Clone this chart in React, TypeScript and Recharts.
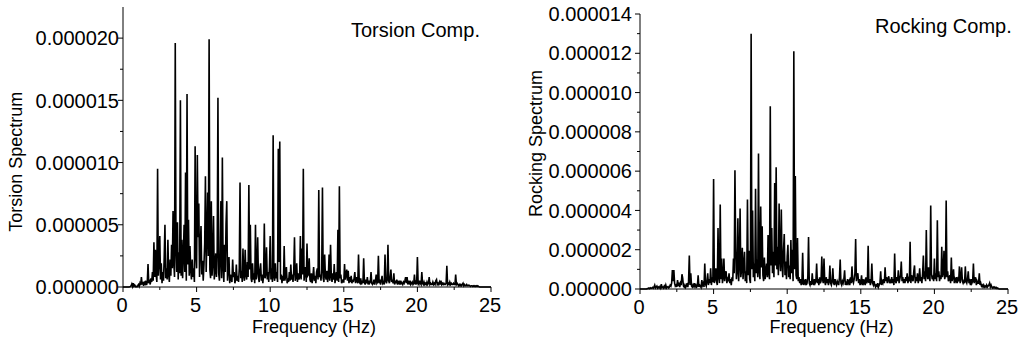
import { ReactElement } from 'react'
import { Line, LineChart, XAxis, YAxis } from 'recharts'

// spectra sampled every 0.05 Hz from 0 to 25 Hz, amplitudes in units of 1e-6
const FREQ_STEP = 0.05

// one row per Hz (20 samples each), plus the closing 25 Hz sample
const torsionValues = [
  0, 0, 0, 0, 0, 0, 0, 0, 0, 0.02, 0.05, 0.1, 0.25, 0.05, 0.3, 0.08, 0.15, 0.03, 0.05, 0.02,
  0.1, 0.2, 0.05, 0.3, 0.15, 0.8, 0.2, 0.4, 0.1, 0.35, 0.25, 0.5, 0.15, 0.4, 1.85, 0.3, 0.6, 0.2, 0.7, 0.4,
  1.2, 0.5, 3.6, 0.8, 3.0, 1.0, 0.4, 9.5, 0.9, 2.0, 4.1, 0.6, 1.9, 0.3, 1.2, 0.5, 2.4, 5.0, 0.7, 1.5,
  0.6, 3.8, 1.0, 0.4, 2.2, 0.9, 3.4, 1.5, 6.1, 2.0, 0.8, 19.6, 3.0, 1.2, 5.2, 0.6, 2.8, 1.1, 15.0, 0.9,
  3.8, 0.7, 2.5, 5.0, 1.2, 9.2, 0.5, 15.5, 1.8, 5.4, 0.9, 3.3, 1.4, 0.6, 2.2, 0.8, 1.5, 0.4, 11.3, 2.6,
  1.5, 10.6, 4.0, 6.7, 0.8, 3.2, 4.9, 1.0, 2.1, 0.5, 1.8, 3.5, 8.9, 1.2, 4.0, 7.6, 2.5, 19.9, 1.4, 0.7,
  6.9, 0.9, 2.0, 5.7, 0.6, 1.3, 2.7, 0.8, 3.0, 15.2, 1.1, 0.5, 2.2, 6.9, 0.7, 10.4, 1.6, 0.4, 3.4, 1.2,
  5.1, 6.9, 0.5, 1.4, 2.4, 0.3, 1.0, 0.6, 0.4, 2.2, 0.8, 1.2, 0.3, 0.6, 1.8, 0.5, 0.9, 0.4, 1.5, 8.4,
  0.7, 1.3, 0.4, 3.1, 0.9, 0.5, 3.0, 1.0, 0.6, 2.0, 0.8, 8.2, 1.4, 5.0, 0.7, 0.4, 1.9, 0.6, 1.1, 0.3,
  5.0, 0.6, 1.2, 4.0, 0.8, 0.4, 1.4, 1.9, 0.5, 1.0, 0.3, 0.9, 5.1, 0.7, 1.1, 3.2, 0.6, 1.2, 0.4, 1.6,
  4.1, 0.6, 1.5, 0.4, 12.2, 0.8, 0.5, 1.9, 0.7, 1.2, 0.4, 11.1, 2.0, 11.7, 0.6, 1.0, 0.3, 0.9, 0.5, 3.3,
  0.5, 1.0, 1.6, 0.3, 0.7, 0.4, 1.2, 0.5, 1.8, 0.6, 1.0, 0.4, 1.3, 4.0, 0.5, 0.8, 1.9, 0.4, 1.1, 0.6,
  0.8, 4.1, 0.6, 3.1, 1.0, 9.5, 0.5, 1.2, 1.6, 0.4, 3.5, 0.9, 1.0, 2.3, 0.6, 0.4, 1.1, 0.3, 0.8, 1.6,
  0.5, 0.9, 0.3, 1.2, 1.5, 0.6, 7.8, 0.8, 1.0, 0.5, 1.4, 8.0, 0.7, 0.4, 2.6, 0.9, 0.6, 1.3, 0.4, 0.8,
  2.6, 0.5, 3.4, 0.9, 0.4, 1.1, 0.6, 1.85, 0.3, 0.8, 1.2, 0.5, 4.6, 0.4, 8.1, 0.7, 1.0, 0.3, 0.6, 0.4,
  0.4, 1.85, 0.6, 1.0, 1.4, 0.5, 1.3, 0.3, 0.8, 0.4, 0.9, 0.3, 0.6, 0.4, 0.7, 1.2, 0.3, 0.8, 0.5, 0.3,
  2.6, 0.4, 0.3, 0.7, 0.2, 0.5, 0.3, 2.3, 0.4, 0.2, 0.6, 0.3, 0.8, 0.2, 0.5, 0.3, 0.4, 1.2, 0.3, 0.2,
  0.3, 0.6, 0.2, 0.5, 1.0, 0.3, 0.4, 2.5, 0.3, 0.6, 0.2, 0.5, 0.9, 0.3, 0.4, 0.2, 2.6, 0.5, 0.3, 0.6,
  3.4, 0.5, 0.3, 0.8, 1.4, 0.4, 0.6, 0.3, 1.1, 0.2, 0.5, 0.3, 0.6, 0.2, 0.4, 0.3, 0.5, 0.2, 0.4, 0.3,
  0.2, 0.4, 0.3, 0.5, 0.8, 0.3, 0.8, 0.2, 0.4, 0.3, 0.5, 0.2, 0.3, 0.4, 0.2, 0.3, 1.0, 0.2, 0.4, 0.3,
  2.4, 0.3, 0.2, 0.5, 0.3, 0.2, 1.2, 0.3, 0.2, 0.4, 0.2, 0.3, 0.2, 0.4, 0.2, 0.3, 0.8, 0.2, 0.3, 0.2,
  0.2, 0.4, 0.2, 0.3, 0.2, 0.5, 0.6, 0.2, 0.3, 0.2, 0.4, 0.2, 0.5, 0.2, 0.3, 0.2, 0.3, 0.2, 0.2, 0.3,
  1.7, 0.2, 0.3, 0.2, 0.4, 0.2, 0.3, 0.2, 0.2, 0.3, 0.2, 0.2, 1.0, 0.2, 0.3, 0.2, 0.1, 0.2, 0.1, 0.2,
  0.1, 0.2, 0.3, 0.1, 0.2, 0.1, 0.1, 0.2, 0.1, 0.1, 0.15, 0.1, 0.05, 0.1, 0.1, 0.05, 0.1, 0.05, 0.1, 0.05,
  0.1, 0.05, 0.1, 0.05, 0.02, 0, 0, 0, 0, 0, 0, 0, 0, 0, 0, 0, 0, 0, 0, 0,
  0,
]

const rockingValues = [
  0, 0, 0, 0, 0, 0, 0, 0, 0, 0, 0.02, 0.03, 0.05, 0.02, 0.06, 0.03, 0.05, 0.08, 0.04, 0.1,
  0.2, 0.05, 0.1, 0.15, 0.05, 0.1, 0.06, 0.12, 0.05, 0.25, 0.08, 0.1, 0.05, 0.15, 0.08, 0.2, 0.05, 0.1, 0.12, 0.06,
  0.1, 0.2, 0.15, 0.3, 0.97, 0.4, 0.97, 0.3, 0.15, 0.2, 0.1, 0.45, 0.15, 0.25, 0.1, 0.3, 0.2, 0.75, 0.55, 0.15,
  0.1, 0.2, 0.08, 0.15, 0.3, 0.1, 0.4, 1.7, 0.2, 0.8, 0.15, 0.1, 0.2, 0.08, 0.3, 0.12, 0.2, 0.1, 0.15, 0.7,
  0.1, 0.2, 0.15, 0.08, 0.45, 0.2, 0.3, 0.1, 1.3, 0.25, 0.15, 0.4, 0.8, 0.2, 0.5, 0.3, 1.05, 0.2, 0.6, 0.35,
  5.6, 0.3, 0.5, 1.05, 0.4, 0.2, 3.1, 0.6, 0.3, 4.3, 0.5, 1.55, 0.3, 0.6, 1.55, 0.4, 0.8, 0.9, 0.3, 0.5,
  0.4, 0.8, 0.3, 0.5, 0.2, 0.6, 0.4, 1.55, 0.8, 6.05, 2.1, 0.5, 0.9, 3.6, 0.4, 1.2, 4.1, 0.6, 1.0, 2.1,
  0.5, 1.2, 1.9, 0.4, 0.9, 0.3, 4.55, 0.7, 1.95, 0.5, 0.3, 13.0, 1.0, 4.0, 0.6, 1.3, 0.4, 5.1, 0.8, 1.5,
  0.6, 6.9, 0.9, 0.5, 4.2, 1.1, 3.2, 0.7, 0.4, 1.6, 0.5, 0.9, 1.3, 0.6, 2.75, 0.8, 0.5, 9.3, 1.2, 3.1,
  0.8, 1.9, 0.6, 5.4, 1.2, 6.2, 1.0, 2.15, 0.7, 4.35, 1.5, 0.9, 4.05, 1.3, 0.6, 2.0, 2.8, 0.7, 1.4, 0.5,
  1.65, 2.25, 0.6, 1.2, 0.5, 2.5, 0.8, 2.0, 0.4, 12.1, 1.0, 5.75, 0.7, 0.5, 2.6, 0.4, 0.6, 0.3, 0.5, 0.2,
  0.3, 1.85, 0.2, 0.4, 0.3, 0.5, 0.2, 0.3, 0.6, 2.65, 0.3, 0.2, 0.4, 0.2, 0.8, 0.3, 0.2, 0.5, 0.3, 0.4,
  1.3, 0.3, 0.5, 0.2, 0.6, 0.3, 0.4, 1.65, 0.5, 0.3, 1.55, 0.4, 0.2, 0.6, 0.3, 0.5, 0.2, 0.4, 1.2, 0.3,
  0.2, 0.4, 1.05, 0.3, 0.2, 0.5, 0.3, 0.2, 0.4, 0.3, 0.2, 0.6, 1.5, 0.3, 0.2, 0.4, 0.3, 0.5, 0.95, 0.2,
  0.3, 0.2, 0.5, 0.3, 0.4, 0.2, 0.6, 0.3, 1.15, 0.4, 0.3, 0.5, 0.8, 2.55, 0.4, 0.7, 0.8, 0.3, 0.5, 0.2,
  0.3, 0.7, 0.2, 0.5, 0.3, 0.4, 0.2, 0.6, 0.3, 0.4, 2.2, 0.3, 0.5, 0.2, 0.4, 1.3, 0.3, 0.2, 0.4, 0.2,
  0.1, 0.2, 0.15, 0.3, 0.1, 0.2, 0.3, 0.9, 0.2, 0.4, 0.3, 0.5, 0.3, 1.1, 0.4, 0.6, 0.3, 0.5, 0.65, 0.3,
  0.4, 0.3, 0.6, 0.3, 0.5, 0.2, 1.8, 0.4, 0.3, 0.6, 0.4, 0.95, 0.3, 0.5, 0.7, 1.4, 0.4, 0.6, 0.3, 0.5,
  0.3, 0.6, 0.4, 0.8, 0.3, 0.5, 0.4, 2.4, 0.3, 0.7, 0.5, 0.4, 0.9, 1.2, 0.3, 0.6, 0.4, 0.8, 0.3, 0.5,
  1.05, 0.4, 0.6, 0.3, 0.8, 1.7, 0.5, 0.9, 0.4, 3.0, 0.7, 0.5, 1.1, 0.6, 0.4, 4.25, 0.8, 0.5, 0.6, 0.4,
  1.55, 0.5, 0.8, 0.4, 3.5, 0.6, 0.9, 0.4, 0.7, 0.5, 2.15, 0.6, 0.8, 1.95, 0.5, 0.7, 4.5, 0.6, 0.9, 0.4,
  0.5, 0.7, 0.3, 1.6, 0.4, 0.6, 1.0, 0.3, 0.5, 0.4, 0.6, 0.3, 0.5, 0.4, 1.15, 0.3, 0.6, 1.1, 0.4, 0.3,
  0.4, 0.3, 1.15, 0.4, 0.3, 0.5, 0.9, 0.3, 0.4, 0.2, 0.5, 0.3, 0.4, 1.3, 0.3, 0.5, 0.6, 0.2, 0.4, 0.3,
  0.3, 0.8, 0.2, 0.3, 0.15, 0.2, 0.1, 0.2, 0.1, 0.15, 0.1, 0.2, 0.1, 0.15, 0.2, 0.3, 0.1, 0.2, 0.1, 0.05,
  0.1, 0.05, 0.1, 0.05, 0.08, 0.03, 0.05, 0.02, 0, 0, 0, 0, 0, 0, 0, 0, 0, 0, 0, 0,
  0,
]

const freqTicks = [0, 2.5, 5, 7.5, 10, 12.5, 15, 17.5, 20, 22.5, 25]
const torsionTicks = [0, 2.5, 5, 7.5, 10, 12.5, 15, 17.5, 20]
const rockingTicks = [0, 1, 2, 3, 4, 5, 6, 7, 8, 9, 10, 11, 12, 13, 14]

const FONT = '"Liberation Sans", Arial, sans-serif'

const toRows = (values: number[]) =>
  values.map((v, i) => ({ f: Number((i * FREQ_STEP).toFixed(2)), v }))

const torsionData = toRows(torsionValues)
const rockingData = toRows(rockingValues)

function FreqTick(props: any): ReactElement {
  const { x, y, payload } = props
  const major = payload.value % 5 === 0
  return (
    <g>
      <line x1={x} x2={x} y1={y} y2={y + (major ? 5 : 3)} stroke="#000" />
      {major && (
        <text x={x - 1} y={y + 25} textAnchor="middle" fontSize={20} fontFamily={FONT} fill="#000">
          {payload.value}
        </text>
      )}
    </g>
  )
}

function amplitudeTick(majorStep: number, gap: number) {
  return function AmpTick(props: any): ReactElement {
    const { x, y, payload } = props
    const major = payload.value % majorStep === 0
    return (
      <g>
        <line x1={x} x2={x - (major ? 5 : 3)} y1={y} y2={y} stroke="#000" />
        {major && (
          <text
            x={x - gap}
            y={y}
            dy="0.36em"
            textAnchor="end"
            fontSize={20}
            fontFamily={FONT}
            fill="#000"
          >
            {(payload.value / 1e6).toFixed(6)}
          </text>
        )}
      </g>
    )
  }
}

const TorsionTick = amplitudeTick(5, 4)
const RockingTick = amplitudeTick(2, 8)

const axisLine = { stroke: '#000', strokeWidth: 1 }

export default function App(): ReactElement {
  return (
    <div style={{ position: 'absolute', left: 0, top: 0, width: 1025, height: 343, background: '#fff' }}>
      <div style={{ position: 'absolute', left: 0, top: 0 }}>
        <LineChart width={515} height={343} data={torsionData} margin={{ top: 7, right: 24, bottom: 0, left: 0 }}>
          <XAxis
            dataKey="f"
            type="number"
            domain={[0, 25]}
            ticks={freqTicks}
            interval={0}
            height={56}
            tickSize={0}
            tickMargin={0}
            tickLine={false}
            axisLine={axisLine}
            tick={<FreqTick />}
          />
          <YAxis
            type="number"
            domain={[0, 22.5]}
            ticks={torsionTicks}
            interval={0}
            width={123}
            tickSize={0}
            tickMargin={0}
            tickLine={false}
            axisLine={axisLine}
            tick={<TorsionTick />}
          />
          <Line
            type="linear"
            dataKey="v"
            stroke="#000"
            strokeWidth={1.6}
            dot={false}
            isAnimationActive={false}
          />
        </LineChart>
      </div>
      <div style={{ position: 'absolute', left: 520, top: 0 }}>
        <LineChart width={505} height={343} data={rockingData} margin={{ top: 14, right: 17, bottom: 0, left: 0 }}>
          <XAxis
            dataKey="f"
            type="number"
            domain={[0, 25]}
            ticks={freqTicks}
            interval={0}
            height={54}
            tickSize={0}
            tickMargin={0}
            tickLine={false}
            axisLine={axisLine}
            tick={<FreqTick />}
          />
          <YAxis
            type="number"
            domain={[0, 14]}
            ticks={rockingTicks}
            interval={0}
            width={120}
            tickSize={0}
            tickMargin={0}
            tickLine={false}
            axisLine={axisLine}
            tick={<RockingTick />}
          />
          <Line
            type="linear"
            dataKey="v"
            stroke="#000"
            strokeWidth={1.6}
            dot={false}
            isAnimationActive={false}
          />
        </LineChart>
      </div>
      <svg
        width={1025}
        height={343}
        style={{ position: 'absolute', left: 0, top: 0, pointerEvents: 'none' }}
        fontFamily={FONT}
        fill="#000"
      >
        <text x={351} y={36.5} fontSize={20}>Torsion Comp.</text>
        <text x={875} y={32.5} fontSize={20}>Rocking Comp.</text>
        <text x={314} y={333} fontSize={18} textAnchor="middle">Frequency (Hz)</text>
        <text x={831.5} y={333} fontSize={18} textAnchor="middle">Frequency (Hz)</text>
        <text transform="translate(21.5,161.7) rotate(-90)" fontSize={18} textAnchor="middle">
          Torsion Spectrum
        </text>
        <text transform="translate(541.5,143.5) rotate(-90)" fontSize={18} textAnchor="middle">
          Rocking Spectrum
        </text>
      </svg>
    </div>
  )
}
